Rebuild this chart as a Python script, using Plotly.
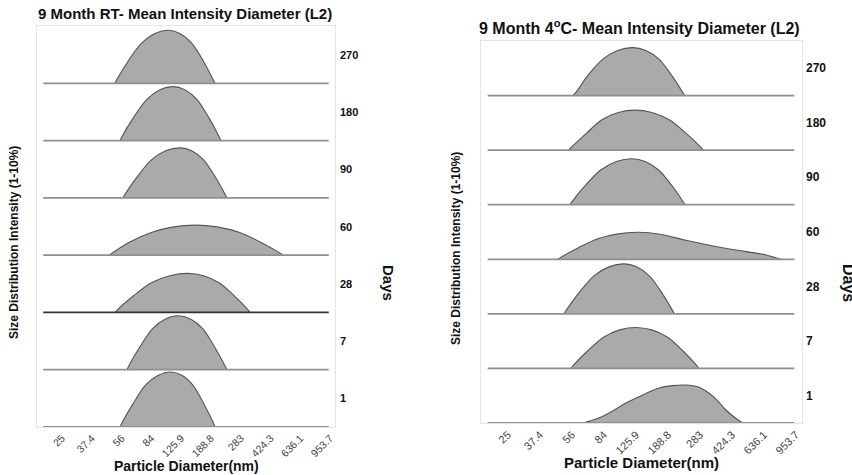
import plotly.graph_objects as go

# ---------------- data ----------------
BIN_LABELS = ["25", "37.4", "56", "84", "125.9", "188.8", "283", "424.3", "636.1", "953.7"]
BIN_POS = list(range(len(BIN_LABELS)))
DAYS = ["1", "7", "28", "60", "90", "180", "270"]          # bottom row -> top row
BIN_MIN, BIN_MAX = -0.63, 8.95                            # measured extent of every trace

# 9 Month RT  (x in bin positions, y = intensity %)
RT_1_X = [1.95, 2.0, 2.38, 2.8, 3.23, 3.65, 4.02, 4.39, 4.76, 5.09, 5.13]
RT_1_Y = [0, 0.58, 4.03, 7.3, 9.02, 9.6, 9.02, 7.3, 4.03, 0.58, 0]
RT_7_X = [2.18, 2.23, 2.61, 3.04, 3.47, 3.9, 4.31, 4.72, 5.12, 5.48, 5.53]
RT_7_Y = [0, 0.57, 3.96, 7.16, 8.85, 9.42, 8.85, 7.16, 3.96, 0.57, 0]
RT_28_X = [1.78, 1.85, 2.39, 3.0, 3.62, 4.23, 4.75, 5.27, 5.79, 6.25, 6.31]
RT_28_Y = [0, 0.41, 2.86, 5.18, 6.4, 6.81, 6.4, 5.18, 2.86, 0.41, 0]
RT_60_X = [1.58, 1.67, 2.24, 3.02, 3.74, 4.46, 5.2, 5.94, 6.68, 7.33, 7.42]
RT_60_Y = [0, 0.31, 2.2, 3.98, 4.93, 5.24, 4.93, 3.98, 2.2, 0.31, 0]
RT_90_X = [2.04, 2.1, 2.52, 3.0, 3.48, 3.96, 4.35, 4.75, 5.14, 5.48, 5.53]
RT_90_Y = [0, 0.52, 3.67, 6.63, 8.21, 8.73, 8.21, 6.63, 3.67, 0.52, 0]
RT_180_X = [1.95, 2.0, 2.39, 2.84, 3.29, 3.73, 4.13, 4.53, 4.93, 5.28, 5.33]
RT_180_Y = [0, 0.57, 3.96, 7.16, 8.85, 9.42, 8.85, 7.16, 3.96, 0.57, 0]
RT_270_X = [1.78, 1.83, 2.22, 2.67, 3.12, 3.56, 3.95, 4.35, 4.74, 5.08, 5.13]
RT_270_Y = [0, 0.55, 3.9, 7.0, 8.7, 9.25, 8.7, 7.0, 3.9, 0.55, 0]

# 9 Month 4 C
C4_1_X = [2.34, 2.84, 3.3, 3.69, 4.2, 4.72, 5.15, 5.56, 5.95, 6.28, 6.55, 6.81, 7.19, 7.34]
C4_1_Y = [0, 0.92, 2.3, 3.66, 5.1, 6.41, 6.85, 6.96, 6.6, 5.49, 4.1, 2.38, 0.55, 0]
C4_7_X = [1.97, 2.03, 2.48, 2.99, 3.49, 4.0, 4.49, 4.99, 5.48, 5.91, 5.97]
C4_7_Y = [0, 0.45, 3.15, 5.71, 7.06, 7.51, 7.06, 5.71, 3.15, 0.45, 0]
C4_28_X = [1.75, 1.81, 2.22, 2.69, 3.16, 3.63, 4.02, 4.42, 4.81, 5.15, 5.2]
C4_28_Y = [0, 0.55, 3.85, 6.96, 8.61, 9.16, 8.61, 6.96, 3.85, 0.55, 0]
C4_60_X = [1.56, 1.64, 2.19, 2.81, 3.44, 4.06, 4.8, 5.56, 6.5, 7.4, 8.1, 8.53]
C4_60_Y = [0, 0.3, 2.08, 3.76, 4.65, 4.95, 4.55, 3.48, 2.35, 1.45, 0.75, 0]
C4_90_X = [1.94, 2.0, 2.42, 2.91, 3.39, 3.87, 4.29, 4.7, 5.12, 5.48, 5.53]
C4_90_Y = [0, 0.51, 3.54, 6.4, 7.91, 8.42, 7.91, 6.4, 3.54, 0.51, 0]
C4_180_X = [1.9, 1.97, 2.45, 2.94, 3.45, 3.97, 4.5, 5.04, 5.57, 6.04, 6.1]
C4_180_Y = [0, 0.44, 3.08, 5.57, 6.89, 7.33, 6.89, 5.57, 3.08, 0.44, 0]
C4_270_X = [2.03, 2.12, 2.5, 2.97, 3.43, 3.9, 4.31, 4.72, 5.12, 5.47, 5.53]
C4_270_Y = [0, 0.53, 3.69, 6.68, 8.26, 8.79, 8.26, 6.68, 3.69, 0.53, 0]

RT_ROWS = [(RT_1_X, RT_1_Y), (RT_7_X, RT_7_Y), (RT_28_X, RT_28_Y), (RT_60_X, RT_60_Y),
           (RT_90_X, RT_90_Y), (RT_180_X, RT_180_Y), (RT_270_X, RT_270_Y)]
C4_ROWS = [(C4_1_X, C4_1_Y), (C4_7_X, C4_7_Y), (C4_28_X, C4_28_Y), (C4_60_X, C4_60_Y),
           (C4_90_X, C4_90_Y), (C4_180_X, C4_180_Y), (C4_270_X, C4_270_Y)]

# ---------------- figure ----------------
W, H = 852, 475
ROW_STEP = 10
FONT = "Liberation Sans, Arial, sans-serif"
FILL = "#aaaaaa"
OUTLINE = "#555555"
BASE = "#8f8f8f"
FRAME = "#e4e4e4"

fig = go.Figure()

panels = [
    dict(rows=RT_ROWS, xa="x", ya="y", dark_row=2),
    dict(rows=C4_ROWS, xa="x2", ya="y2", dark_row=None),
]

for p in panels:
    for i, (xs, ys) in enumerate(p["rows"]):
        off = i * ROW_STEP
        fig.add_trace(go.Scatter(
            x=xs, y=[off + v for v in ys], mode="lines",
            line=dict(color=OUTLINE, width=1.1, shape="spline", smoothing=0.9),
            fill="toself", fillcolor=FILL, hoverinfo="skip",
            xaxis=p["xa"], yaxis=p["ya"], showlegend=False))
        fig.add_trace(go.Scatter(
            x=[BIN_MIN, BIN_MAX], y=[off, off], mode="lines",
            line=dict(color="#333333" if i == p["dark_row"] else BASE, width=1.8),
            hoverinfo="skip", xaxis=p["xa"], yaxis=p["ya"], showlegend=False))

def xax(domain, rng, anchor, fs):
    return dict(domain=domain, range=rng, anchor=anchor,
                tickmode="array", tickvals=BIN_POS, ticktext=BIN_LABELS,
                tickangle=-45, ticks="", tickfont=dict(size=fs, color="#444444", family=FONT),
                showgrid=False, zeroline=False, showline=True, mirror=True,
                linecolor=FRAME, linewidth=1, automargin=False, fixedrange=True)

def yax(domain, anchor):
    return dict(domain=domain, range=[0, 7 * ROW_STEP], anchor=anchor,
                showticklabels=False, ticks="", showgrid=False, zeroline=False,
                showline=True, mirror=True, linecolor=FRAME, linewidth=1,
                automargin=False, fixedrange=True)

fig.update_layout(
    width=W, height=H,
    margin=dict(l=0, r=0, t=0, b=0),
    paper_bgcolor="white", plot_bgcolor="white",
    font=dict(family=FONT, color="#111111"),
    xaxis=xax([37 / W, 335 / W], [-0.84, 9.16], "y", 10.5),
    yaxis=yax([1 - 427 / H, 1 - 26 / H], "x"),
    xaxis2=xax([481 / W, 802 / W], [-0.84, 9.19], "y2", 11),
    yaxis2=yax([1 - 423 / H, 1 - 41 / H], "x2"),
)

ann = []
# titles
ann.append(dict(text="<b>9 Month RT- Mean Intensity Diameter (L2)</b>", x=36 / W, y=1 - 13 / H,
                xref="paper", yref="paper", xanchor="left", yanchor="middle",
                showarrow=False, font=dict(size=15, color="#111111")))
ann.append(dict(text="<b>9 Month 4<sup>o</sup>C- Mean Intensity Diameter (L2)</b>", x=477 / W, y=1 - 27 / H,
                xref="paper", yref="paper", xanchor="left", yanchor="middle",
                showarrow=False, font=dict(size=16, color="#111111")))
# x axis titles
ann.append(dict(text="<b>Particle Diameter(nm)</b>", x=186 / W, y=1 - 466 / H,
                xref="paper", yref="paper", xanchor="center", yanchor="middle",
                showarrow=False, font=dict(size=14, color="#111111")))
ann.append(dict(text="<b>Particle Diameter(nm)</b>", x=641 / W, y=1 - 462 / H,
                xref="paper", yref="paper", xanchor="center", yanchor="middle",
                showarrow=False, font=dict(size=15, color="#111111")))
# y axis titles
ann.append(dict(text="<b>Size Distribution Intensity (1-10%)</b>", x=14 / W, y=1 - 243 / H,
                xref="paper", yref="paper", xanchor="center", yanchor="middle", textangle=-90,
                showarrow=False, font=dict(size=12, color="#111111")))
ann.append(dict(text="<b>Size Distribution Intensity (1-10%)</b>", x=456 / W, y=1 - 248 / H,
                xref="paper", yref="paper", xanchor="center", yanchor="middle", textangle=-90,
                showarrow=False, font=dict(size=12, color="#111111")))
# Days
ann.append(dict(text="<b>Days</b>", x=389 / W, y=1 - 283 / H,
                xref="paper", yref="paper", xanchor="center", yanchor="middle", textangle=90,
                showarrow=False, font=dict(size=15, color="#111111")))
ann.append(dict(text="<b>Days</b>", x=849 / W, y=1 - 283 / H,
                xref="paper", yref="paper", xanchor="center", yanchor="middle", textangle=90,
                showarrow=False, font=dict(size=16, color="#111111")))
# row labels
for i, d in enumerate(DAYS):
    ann.append(dict(text="<b>%s</b>" % d, x=338 / W, y=i * ROW_STEP + ROW_STEP / 2,
                    xref="paper", yref="y", xanchor="left", yanchor="middle",
                    showarrow=False, font=dict(size=11, color="#111111")))
    ann.append(dict(text="<b>%s</b>" % d, x=804 / W, y=i * ROW_STEP + ROW_STEP / 2,
                    xref="paper", yref="y2", xanchor="left", yanchor="middle",
                    showarrow=False, font=dict(size=12, color="#111111")))

fig.update_layout(annotations=ann)
fig.write_html("out.html", config={"displayModeBar": False},
               post_script="document.body.style.margin='0';document.body.style.overflow='hidden';")
